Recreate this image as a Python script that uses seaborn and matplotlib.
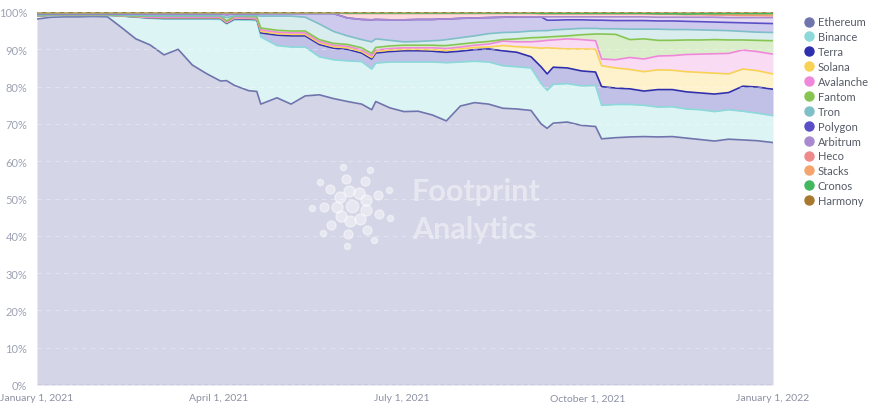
import numpy as np
import pandas as pd
import seaborn as sns
import matplotlib.pyplot as plt
import matplotlib.colors as mcolors
from matplotlib.lines import Line2D

days = [0, 7, 14, 21, 28, 35, 42, 49, 56, 63,
        70, 77, 84, 91, 94, 98, 105, 109, 111, 119,
        126, 133, 140, 147, 154, 161, 166, 168, 175, 182,
        189, 196, 200, 203, 210, 217, 224, 231, 238, 245,
        250, 253, 256, 263, 270, 277, 280, 287, 294, 301,
        308, 315, 322, 329, 336, 343, 350, 357, 365]

# upper edge of each chain in the 100% stack (% of total TVL)
ethereum = [98.1, 98.6, 98.7, 98.7, 98.8, 98.7, 95.8, 92.8, 91.2, 88.5,
            90.0, 85.8, 83.5, 81.5, 81.6, 80.3, 78.9, 78.7, 75.3, 77.0,
            75.3, 77.5, 77.8, 76.8, 76.0, 75.3, 73.8, 76.0, 74.3, 73.3,
            73.4, 72.4, 71.5, 70.8, 74.8, 75.7, 75.3, 74.2, 74.0, 73.6,
            70.0, 68.8, 70.2, 70.5, 69.6, 69.3, 66.0, 66.3, 66.5, 66.6,
            66.5, 66.6, 66.2, 65.8, 65.4, 65.9, 65.7, 65.5, 65.0]
binance = [98.9, 99.1, 99.1, 99.1, 99.1, 99.1, 98.9, 98.6, 98.3, 98.1,
           98.1, 98.1, 98.1, 98.0, 96.8, 97.9, 97.8, 97.7, 93.3, 91.0,
           90.6, 90.6, 88.0, 87.2, 86.9, 86.7, 84.7, 86.3, 86.6, 86.6,
           86.6, 86.6, 86.5, 86.4, 86.6, 86.8, 86.6, 85.6, 85.3, 85.0,
           80.8, 79.0, 80.6, 80.8, 80.2, 80.3, 75.0, 75.2, 75.2, 75.0,
           74.5, 74.6, 74.0, 73.8, 73.3, 73.8, 73.4, 72.9, 72.2]
terra = [98.95, 99.15, 99.15, 99.15, 99.15, 99.15, 98.95, 98.7, 98.4, 98.3,
         98.3, 98.3, 98.3, 98.3, 97.0, 98.2, 98.1, 98.0, 94.4, 93.8,
         93.6, 93.6, 91.3, 90.3, 90.0, 89.0, 87.4, 89.0, 89.4, 89.6,
         89.6, 89.5, 89.3, 89.2, 89.5, 89.9, 90.1, 89.6, 89.2, 88.0,
         85.3, 83.4, 85.2, 85.0, 84.2, 83.9, 80.0, 79.6, 79.4, 78.8,
         79.2, 79.2, 78.6, 78.3, 78.0, 78.4, 80.1, 79.9, 79.3]
solana = [98.97, 99.17, 99.17, 99.17, 99.17, 99.17, 98.97, 98.75, 98.5, 98.45,
          98.45, 98.45, 98.45, 98.45, 97.15, 98.35, 98.25, 98.15, 94.8, 94.2,
          94.0, 94.0, 91.7, 90.7, 90.4, 89.4, 87.8, 89.4, 89.8, 90.0,
          90.0, 89.9, 89.8, 89.7, 90.1, 90.5, 90.6, 91.0, 90.7, 90.5,
          90.3, 90.4, 90.3, 90.1, 90.1, 90.0, 85.6, 85.0, 84.6, 84.0,
          84.5, 84.4, 84.0, 83.8, 83.6, 83.4, 84.7, 84.3, 83.4]
avalanche = [98.99, 99.2, 99.2, 99.2, 99.2, 99.2, 99.0, 98.8, 98.6, 98.6,
             98.6, 98.6, 98.6, 98.6, 97.3, 98.5, 98.4, 98.3, 95.2, 94.6,
             94.4, 94.4, 92.1, 91.1, 90.8, 89.8, 88.3, 89.8, 90.2, 90.4,
             90.4, 90.4, 90.3, 90.2, 90.6, 91.1, 91.4, 92.2, 92.0, 92.0,
             92.2, 92.4, 92.5, 92.8, 92.6, 92.3, 87.4, 87.2, 87.8, 87.4,
             88.2, 88.3, 88.6, 88.7, 88.8, 88.9, 89.8, 89.4, 88.7]
fantom = [99.0, 99.25, 99.25, 99.25, 99.25, 99.25, 99.05, 98.9, 98.9, 98.95,
          98.95, 98.95, 98.95, 98.95, 97.6, 98.9, 98.8, 98.7, 95.7, 95.1,
          94.9, 94.9, 92.6, 91.6, 91.3, 90.4, 88.9, 90.5, 90.9, 91.1,
          91.1, 91.1, 91.0, 91.0, 91.4, 91.8, 92.1, 92.6, 92.8, 93.1,
          93.2, 93.3, 93.4, 93.6, 93.9, 94.1, 94.1, 94.0, 92.6, 92.8,
          92.4, 92.4, 92.5, 92.5, 92.6, 92.5, 92.5, 92.4, 92.3]
tron = [99.2, 99.35, 99.35, 99.35, 99.35, 99.35, 99.2, 99.1, 99.0, 99.0,
        99.0, 99.0, 99.0, 99.0, 98.5, 99.0, 99.0, 99.0, 98.9, 98.9,
        98.9, 98.6, 96.8, 94.8, 93.6, 92.6, 92.0, 92.8, 92.4, 92.0,
        92.1, 92.3, 92.4, 92.6, 93.1, 93.6, 94.2, 94.5, 94.6, 94.9,
        95.0, 95.0, 95.2, 95.4, 95.6, 95.6, 95.5, 95.5, 95.4, 95.4,
        95.4, 95.3, 95.3, 95.2, 95.1, 95.0, 94.8, 94.6, 94.5]
polygon = [99.5, 99.55, 99.55, 99.55, 99.55, 99.55, 99.5, 99.5, 99.5, 99.5,
           99.5, 99.5, 99.5, 99.5, 99.3, 99.5, 99.5, 99.5, 99.6, 99.6,
           99.6, 99.6, 99.6, 99.6, 98.4, 98.0, 97.9, 98.0, 97.9, 97.9,
           98.0, 98.0, 98.1, 98.1, 98.3, 98.4, 98.5, 98.6, 98.7, 98.7,
           98.7, 97.8, 97.8, 97.9, 97.9, 97.8, 97.8, 97.7, 97.7, 97.7,
           97.6, 97.6, 97.5, 97.4, 97.3, 97.2, 97.1, 97.0, 96.9]
arbitrum = [99.5, 99.55, 99.55, 99.55, 99.55, 99.55, 99.5, 99.5, 99.5, 99.5,
            99.5, 99.5, 99.5, 99.5, 99.3, 99.5, 99.5, 99.5, 99.6, 99.6,
            99.6, 99.6, 99.6, 99.6, 98.4, 98.0, 97.9, 98.0, 97.9, 97.9,
            98.0, 98.0, 98.1, 98.1, 98.3, 98.4, 98.5, 98.6, 98.7, 98.7,
            98.7, 98.7, 98.7, 98.7, 98.7, 98.7, 98.7, 98.7, 98.7, 98.7,
            98.6, 98.6, 98.6, 98.6, 98.6, 98.5, 98.5, 98.5, 98.5]
heco = [99.75, 99.75, 99.75, 99.75, 99.75, 99.75, 99.75, 99.75, 99.75, 99.75,
        99.75, 99.75, 99.75, 99.75, 99.7, 99.75, 99.75, 99.75, 99.75, 99.75,
        99.75, 99.75, 99.75, 99.75, 99.6, 99.6, 99.6, 99.6, 99.6, 99.6,
        99.6, 99.6, 99.6, 99.6, 99.6, 99.6, 99.6, 99.6, 99.6, 99.6,
        99.5, 99.5, 99.5, 99.5, 99.5, 99.5, 99.5, 99.5, 99.5, 99.5,
        99.4, 99.4, 99.3, 99.3, 99.2, 99.2, 99.1, 99.1, 99.0]
stacks = [99.85, 99.85, 99.85, 99.85, 99.85, 99.85, 99.85, 99.85, 99.85, 99.85,
          99.85, 99.85, 99.85, 99.85, 99.85, 99.85, 99.85, 99.85, 99.85, 99.85,
          99.85, 99.85, 99.85, 99.85, 99.75, 99.75, 99.75, 99.75, 99.75, 99.75,
          99.75, 99.75, 99.75, 99.75, 99.75, 99.75, 99.75, 99.75, 99.75, 99.75,
          99.65, 99.65, 99.65, 99.65, 99.65, 99.65, 99.65, 99.65, 99.65, 99.65,
          99.55, 99.55, 99.45, 99.45, 99.35, 99.35, 99.25, 99.25, 99.15]
cronos = [99.85, 99.85, 99.85, 99.85, 99.85, 99.85, 99.85, 99.85, 99.85, 99.85,
          99.85, 99.85, 99.85, 99.85, 99.85, 99.85, 99.85, 99.85, 99.85, 99.85,
          99.85, 99.85, 99.85, 99.85, 99.75, 99.75, 99.75, 99.75, 99.75, 99.75,
          99.75, 99.75, 99.75, 99.75, 99.75, 99.75, 99.75, 99.75, 99.75, 99.75,
          99.65, 99.65, 99.65, 99.65, 99.65, 99.65, 99.65, 99.65, 99.65, 99.65,
          99.55, 99.55, 99.45, 99.55, 99.55, 99.6, 99.6, 99.6, 99.6]
harmony = [100.0, 100.0, 100.0, 100.0, 100.0, 100.0, 100.0, 100.0, 100.0, 100.0,
           100.0, 100.0, 100.0, 100.0, 100.0, 100.0, 100.0, 100.0, 100.0, 100.0,
           100.0, 100.0, 100.0, 100.0, 100.0, 100.0, 100.0, 100.0, 100.0, 100.0,
           100.0, 100.0, 100.0, 100.0, 100.0, 100.0, 100.0, 100.0, 100.0, 100.0,
           100.0, 100.0, 100.0, 100.0, 100.0, 100.0, 100.0, 100.0, 100.0, 100.0,
           100.0, 100.0, 100.0, 100.0, 100.0, 100.0, 100.0, 100.0, 100.0]

chains = ['Ethereum', 'Binance', 'Terra', 'Solana', 'Avalanche', 'Fantom', 'Tron',
          'Polygon', 'Arbitrum', 'Heco', 'Stacks', 'Cronos', 'Harmony']
colors = ['#6f74ad', '#8cd9da', '#2f2fae', '#f8d255', '#ef88da', '#86c552', '#7fbfc7',
          '#5a4fc6', '#a98ad0', '#ef8a8a', '#f4a46c', '#43b75e', '#a8782e']
levels = [ethereum, binance, terra, solana, avalanche, fantom, tron,
          polygon, arbitrum, heco, stacks, cronos, harmony]

tick_dates = ['2021-01-01', '2021-04-01', '2021-07-01', '2021-10-01', '2022-01-01']
tick_labels = ['January 1, 2021', 'April 1, 2021', 'July 1, 2021',
               'October 1, 2021', 'January 1, 2022']

sns.set_style('white')
plt.rcParams['font.family'] = ['Lato', 'DejaVu Sans']

dates = pd.Timestamp('2021-01-01') + pd.to_timedelta(days, unit='D')
df = pd.DataFrame({
    'date': np.tile(dates, len(chains)),
    'chain': np.repeat(chains, len(days)),
    'level': np.concatenate(levels),
})

fig = plt.figure(figsize=(8.79, 4.10), dpi=100)
ax = fig.add_axes([37 / 879, 1 - 386 / 410, 736 / 879, 373 / 410])

# light fills between consecutive stack edges
lower = np.zeros(len(days))
for top, c in zip(levels, colors):
    rgb = np.array(mcolors.to_rgb(c))
    light = 1 - 0.3 * (1 - rgb)
    ax.fill_between(dates, lower, top, color=light, lw=0)
    lower = np.array(top)

sns.lineplot(data=df, x='date', y='level', hue='chain', hue_order=chains,
             palette=dict(zip(chains, colors)), linewidth=1.2, legend=False, ax=ax)

ax.set_xlim(pd.Timestamp('2021-01-01'), pd.Timestamp('2022-01-01'))
ax.set_ylim(0, 100)
ax.set_yticks(range(0, 101, 10))
ax.set_yticklabels([f'{v}%' for v in range(0, 101, 10)])
ax.set_xticks(pd.to_datetime(tick_dates))
ax.set_xticklabels(tick_labels)
ax.tick_params(axis='y', length=0, pad=7, labelsize=8, labelcolor='#9ea2b4')
ax.tick_params(axis='x', length=0, pad=6, labelsize=7.5, labelcolor='#8c90a2')
ax.set_xlabel('')
ax.set_ylabel('')
for s in ax.spines.values():
    s.set_visible(False)

ax.set_axisbelow(False)
ax.yaxis.grid(True, color='white', alpha=0.35, lw=0.8, ls=(0, (4, 4)))
ax.axhline(0, color='#9a9cad', lw=1, ls=(0, (3, 2)), zorder=5)

# watermark
fig.text(412 / 879, 1 - 192 / 410, 'Footprint', ha='left', va='center', fontsize=22,
         fontweight='bold', color='white', alpha=0.45)
fig.text(412 / 879, 1 - 230 / 410, 'Analytics', ha='left', va='center', fontsize=22,
         fontweight='bold', color='white', alpha=0.45)
cx, cy = 352, 207
fig.add_artist(Line2D([cx / 879], [1 - cy / 410], ls='', marker='o', markersize=9,
                      color='white', alpha=0.45, transform=fig.transFigure))
for k in range(9):
    a = 2 * np.pi * k / 9 + 0.3
    for r, ms in [(15, 8), (28, 6.5), (40, 4.5)]:
        fig.add_artist(Line2D([(cx + r * np.cos(a)) / 879], [1 - (cy + r * np.sin(a)) / 410],
                              ls='', marker='o', markersize=ms, color='white', alpha=0.45,
                              transform=fig.transFigure))

handles = [Line2D([], [], ls='', marker='o', markersize=6.5, markerfacecolor=c,
                  markeredgecolor=c) for c in colors]
fig.legend(handles, chains, loc='upper left', bbox_to_anchor=(798 / 879, 1 - 13 / 410),
           frameon=False, fontsize=8, labelcolor='#555a66', handletextpad=0.2,
           labelspacing=0.35, borderaxespad=0, handlelength=1.2)

fig.savefig('out.png', dpi=100)
